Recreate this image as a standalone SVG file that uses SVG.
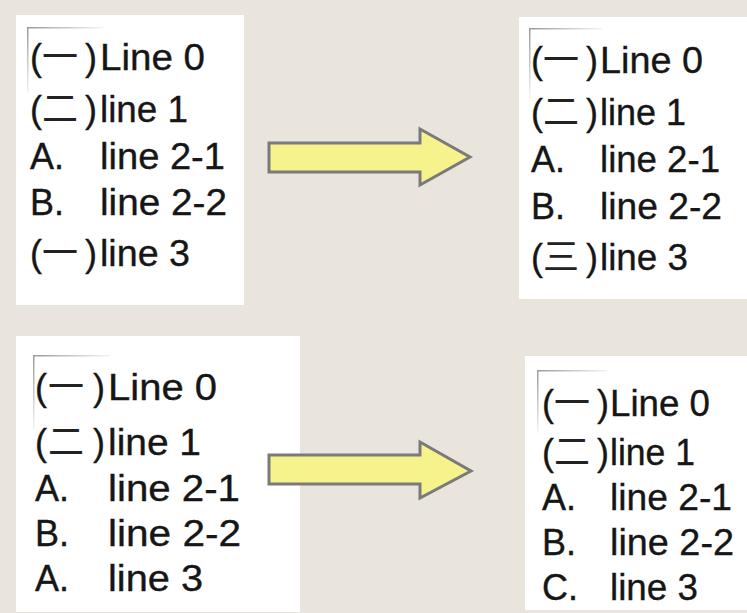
<svg xmlns="http://www.w3.org/2000/svg" width="747" height="613" viewBox="0 0 747 613">
<style>
.box{fill:#ffffff}
.t{font-family:"Liberation Sans",Arial,sans-serif;font-size:36px;fill:#161616;stroke:#161616;stroke-width:0.35}
.c{font-family:"Noto Sans CJK TC","Noto Sans CJK SC",sans-serif;font-size:36px;fill:#222222}
.arrow{fill:#f6f28c;stroke:#7a7a7a;stroke-width:3;stroke-linejoin:miter}
</style>
<defs>
<linearGradient id="gh" x1="0" y1="0" x2="1" y2="0"><stop offset="0" stop-color="#9a9a9a"/><stop offset="1" stop-color="#f4f4f4"/></linearGradient>
<linearGradient id="gv" x1="0" y1="0" x2="0" y2="1"><stop offset="0" stop-color="#9a9a9a"/><stop offset="1" stop-color="#f4f4f4"/></linearGradient>
</defs>
<rect x="0" y="0" width="747" height="613" fill="#e9e4dc"/>

<g id="box1">
<rect class="box" x="16" y="15" width="228" height="290"/>
<rect x="27" y="27" width="76" height="1.5" fill="url(#gh)"/>
<rect x="27" y="27" width="1.5" height="66" fill="url(#gv)"/>
<text class="t" x="30" y="70">(</text><text class="c" x="42" y="70">一</text><text class="t" x="85" y="70">)</text><text class="t" x="100" y="70" textLength="105" lengthAdjust="spacingAndGlyphs">Line 0</text>
<text class="t" x="30" y="122">(</text><text class="c" x="42" y="122">二</text><text class="t" x="85" y="122">)</text><text class="t" x="100" y="122" textLength="88" lengthAdjust="spacingAndGlyphs">line 1</text>
<text class="t" x="30" y="169">A.</text><text class="t" x="100" y="169" textLength="125" lengthAdjust="spacingAndGlyphs">line 2-1</text>
<text class="t" x="30" y="215">B.</text><text class="t" x="100" y="215" textLength="127" lengthAdjust="spacingAndGlyphs">line 2-2</text>
<text class="t" x="30" y="266">(</text><text class="c" x="42" y="266">一</text><text class="t" x="85" y="266">)</text><text class="t" x="100" y="266" textLength="90" lengthAdjust="spacingAndGlyphs">line 3</text>
</g>

<g id="box2">
<rect class="box" x="519" y="17" width="228" height="282"/>
<rect x="529" y="28" width="73" height="1.5" fill="url(#gh)"/>
<rect x="529" y="28" width="1.5" height="70" fill="url(#gv)"/>
<text class="t" x="531" y="73">(</text><text class="c" x="543" y="73">一</text><text class="t" x="586" y="73">)</text><text class="t" x="600" y="73" textLength="103" lengthAdjust="spacingAndGlyphs">Line 0</text>
<text class="t" x="531" y="125">(</text><text class="c" x="543" y="125">二</text><text class="t" x="586" y="125">)</text><text class="t" x="600" y="125" textLength="86" lengthAdjust="spacingAndGlyphs">line 1</text>
<text class="t" x="531" y="172">A.</text><text class="t" x="600" y="172" textLength="120" lengthAdjust="spacingAndGlyphs">line 2-1</text>
<text class="t" x="531" y="219">B.</text><text class="t" x="600" y="219" textLength="122" lengthAdjust="spacingAndGlyphs">line 2-2</text>
<text class="t" x="531" y="270">(</text><text class="c" x="543" y="270">三</text><text class="t" x="586" y="270">)</text><text class="t" x="600" y="270" textLength="88" lengthAdjust="spacingAndGlyphs">line 3</text>
</g>

<g id="box3">
<rect class="box" x="16" y="336" width="284" height="276"/>
<rect x="33" y="355" width="77" height="1.5" fill="url(#gh)"/>
<rect x="33" y="355" width="1.5" height="75" fill="url(#gv)"/>
<text class="t" x="35" y="400">(</text><text class="c" x="48" y="400">一</text><text class="t" x="93" y="400">)</text><text class="t" x="108" y="400" textLength="109" lengthAdjust="spacingAndGlyphs">Line 0</text>
<text class="t" x="35" y="455">(</text><text class="c" x="48" y="455">二</text><text class="t" x="93" y="455">)</text><text class="t" x="108" y="455" textLength="93" lengthAdjust="spacingAndGlyphs">line 1</text>
<text class="t" x="35" y="501">A.</text><text class="t" x="108" y="501" textLength="132" lengthAdjust="spacingAndGlyphs">line 2-1</text>
<text class="t" x="35" y="546">B.</text><text class="t" x="108" y="546" textLength="133" lengthAdjust="spacingAndGlyphs">line 2-2</text>
<text class="t" x="35" y="591">A.</text><text class="t" x="108" y="591" textLength="95" lengthAdjust="spacingAndGlyphs">line 3</text>
</g>

<g id="box4">
<rect class="box" x="525" y="356" width="222" height="254"/>
<rect x="537" y="370" width="70" height="1.5" fill="url(#gh)"/>
<rect x="537" y="370" width="1.5" height="63" fill="url(#gv)"/>
<text class="t" x="542" y="416">(</text><text class="c" x="554" y="416">一</text><text class="t" x="597" y="416">)</text><text class="t" x="610" y="416" textLength="100" lengthAdjust="spacingAndGlyphs">Line 0</text>
<text class="t" x="542" y="465">(</text><text class="c" x="554" y="465">二</text><text class="t" x="597" y="465">)</text><text class="t" x="610" y="465" textLength="85" lengthAdjust="spacingAndGlyphs">line 1</text>
<text class="t" x="542" y="510">A.</text><text class="t" x="610" y="510" textLength="122" lengthAdjust="spacingAndGlyphs">line 2-1</text>
<text class="t" x="542" y="555">B.</text><text class="t" x="610" y="555" textLength="124" lengthAdjust="spacingAndGlyphs">line 2-2</text>
<text class="t" x="542" y="600">C.</text><text class="t" x="610" y="600" textLength="88" lengthAdjust="spacingAndGlyphs">line 3</text>
</g>

<g id="connectors">
<path class="arrow" d="M269,143 L420,143 L420,129 L470,157 L420,185 L420,172 L269,172 Z"/>
<path class="arrow" d="M269,455 L420,455 L420,442 L471,471 L420,498 L420,484 L269,484 Z"/>
</g>
</svg>
